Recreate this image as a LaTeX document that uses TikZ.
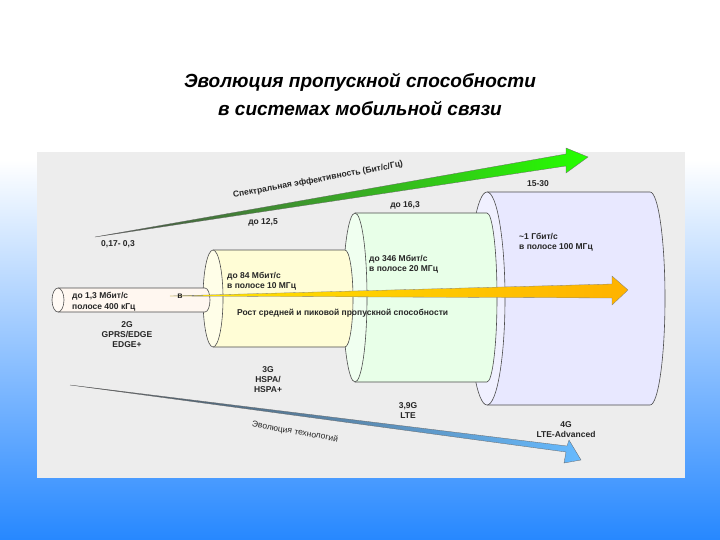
\documentclass[tikz,border=0pt]{standalone}
\usepackage{fontspec}
\setmainfont{Liberation Sans}
\begin{document}
\begin{tikzpicture}[x=1pt,y=-1pt,
  lbl/.style={font=\bfseries\fontsize{8.5}{10}\selectfont,text=black!85,inner sep=0pt},
  lblc/.style={lbl,align=center},
  cyl/.style={draw=black!70,line width=0.6pt}]
\useasboundingbox (0,0) rectangle (720,540);
\shade[top color=white,bottom color=white] (0,0) rectangle (720,160);
\shade[top color=white,bottom color=blue!55!cyan!85] (0,160) rectangle (720,540);
\fill[gray!14] (37,152) rectangle (685,478);
\node[font=\bfseries\itshape\fontsize{19}{28}\selectfont,align=center] (title) at (360,94) {Эволюция пропускной способности\\в системах мобильной связи};
% 4G cylinder
\draw[cyl,fill=blue!9] (487,192) -- (650,192) arc[x radius=15,y radius=106.5,start angle=-90,end angle=90] -- (487,405);
\draw[cyl,fill=blue!6] (487,298.5) ellipse[x radius=18,y radius=106.5];
% LTE cylinder
\draw[cyl,fill=green!9] (355,213) -- (487,213) arc[x radius=10,y radius=84.5,start angle=-90,end angle=90] -- (355,382);
\draw[cyl,fill=green!6] (355,297.5) ellipse[x radius=12,y radius=84.5];
% 3G cylinder
\draw[cyl,fill=yellow!16] (213,250) -- (345,250) arc[x radius=8,y radius=48.5,start angle=-90,end angle=90] -- (213,347);
\draw[cyl,fill=yellow!9] (213,298.5) ellipse[x radius=10,y radius=48.5];
% 2G tube
\draw[cyl,fill=orange!6] (58,288) -- (205,288) arc[x radius=5,y radius=12,start angle=-90,end angle=90] -- (58,312);
\draw[cyl,fill=orange!4] (58,300) ellipse[x radius=6,y radius=12];
% green arrow
\shade[left color=black!70,right color=green!80!lime,draw=black!60,line width=0.3pt]
  (95,237) -- (566,166) -- (566,173) -- (588,157) -- (566,148) -- (566,154) -- cycle;
% yellow arrow
\shade[left color=yellow!80!orange,right color=orange!60!yellow,draw=black!50,line width=0.3pt]
  (170,296) -- (612,284) -- (612,276) -- (628,290) -- (612,305) -- (612,298) -- cycle;
% blue arrow
\shade[left color=black!70,right color=blue!45!cyan!60,draw=black!60,line width=0.3pt]
  (70,385) -- (566,452) -- (564,463) -- (581,460) -- (569,440) -- (567,446) -- cycle;
% labels
\node[lbl,rotate=10.5] (se) at (318,180) {Спектральная эффективность (Бит/с/Гц)};
\node[lbl] (l125) at (263,222) {до 12,5};
\node[lbl] (l017) at (118,244) {0,17- 0,3};
\node[lbl] (l163) at (405,205) {до 16,3};
\node[lbl] (l1530) at (538,184) {15-30};
\node[lbl,anchor=west] (a1) at (72,296) {до 1,3 Мбит/с};
\node[lbl] (a1b) at (180,296) {в};
\node[lbl,anchor=west] (a2) at (72,307) {полосе 400 кГц};
\node[lbl,anchor=west,align=left] (b1) at (227,281) {до 84 Мбит/с\\в полосе 10 МГц};
\node[lbl,anchor=west] (rost) at (237,313) {Рост средней и пиковой пропускной способности};
\node[lbl,anchor=west,align=left] (c1) at (369,264) {до 346 Мбит/с\\в полосе 20 МГц};
\node[lbl,anchor=west,align=left] (d1) at (519,242) {\textasciitilde1 Гбит/с\\в полосе 100 МГц};
\node[lblc] (g2) at (127,335) {2G\\GPRS/EDGE\\EDGE+};
\node[lblc] (g3) at (268,380) {3G\\HSPA/\\HSPA+};
\node[lblc] (g39) at (408,411) {3,9G\\LTE};
\node[lblc] (g4) at (566,430) {4G\\LTE-Advanced};
\node[lbl,font=\fontsize{8.5}{9}\selectfont,rotate=-10] (evo) at (295,432) {Эволюция технологий};
\end{tikzpicture}
\end{document}
